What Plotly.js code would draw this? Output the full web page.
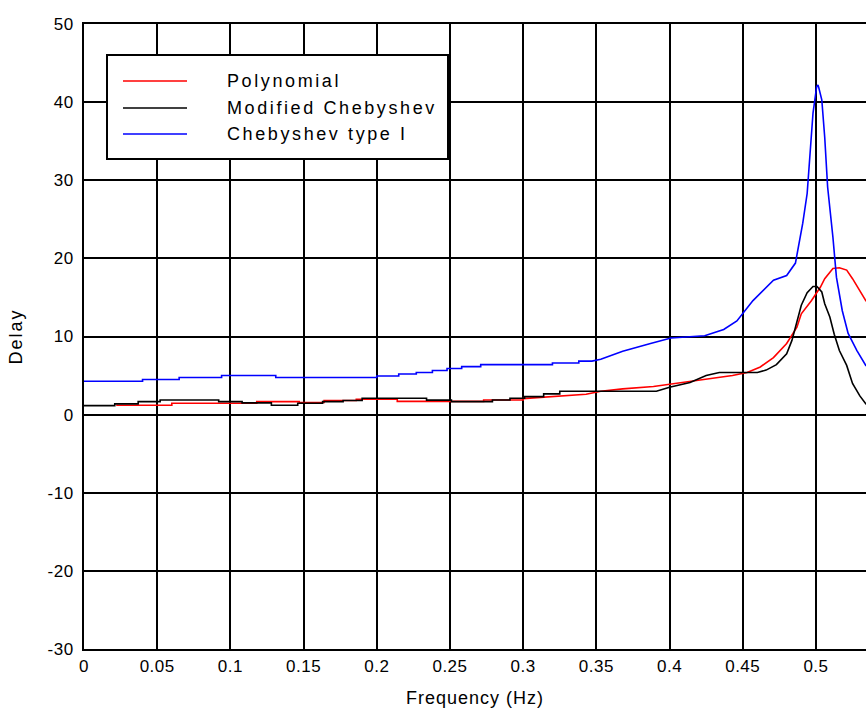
<!DOCTYPE html>
<html>
<head>
<meta charset="utf-8">
<script src="https://cdn.plot.ly/plotly-3.0.1.min.js"></script>
<style>
  html, body { margin: 0; padding: 0; background: #fff; }
  #chart { width: 866px; height: 711px; }
  .xtick text, .ytick text { letter-spacing: 0.5px; }
  .xtitle { letter-spacing: 1px; }
  .ytitle { letter-spacing: 2px; }
  .annotation-text { letter-spacing: 2.6px; }
</style>
</head>
<body>
<div id="chart"></div>
<script>
// ---- data ----
const seriesNames = ["Polynomial", "Modified Chebyshev", "Chebyshev type I"];
const seriesColors = ["#ff0000", "#000000", "#0000ff"];

const polyFreq = [0.022, 0.060, 0.060, 0.118, 0.118, 0.147, 0.147, 0.164, 0.164, 0.186, 0.186, 0.214, 0.214, 0.273, 0.273, 0.300, 0.300, 0.323, 0.343, 0.353, 0.368, 0.389, 0.401, 0.424, 0.443, 0.453, 0.462, 0.471, 0.480, 0.487, 0.490, 0.497, 0.503, 0.506, 0.5116, 0.516, 0.521, 0.525, 0.530, 0.534, 0.540];
const polyDelay = [1.2, 1.2, 1.45, 1.45, 1.67, 1.67, 1.55, 1.55, 1.8, 1.8, 1.97, 1.97, 1.7, 1.7, 1.88, 1.88, 2.05, 2.3, 2.6, 3.0, 3.3, 3.6, 3.9, 4.5, 5.0, 5.4, 6.1, 7.3, 9.1, 11.2, 12.9, 14.6, 16.3, 17.4, 18.7, 18.8, 18.5, 17.4, 15.9, 14.6, 13.5];

const modFreq = [0, 0.021, 0.021, 0.037, 0.037, 0.052, 0.052, 0.092, 0.092, 0.108, 0.108, 0.128, 0.128, 0.146, 0.146, 0.163, 0.163, 0.177, 0.177, 0.190, 0.190, 0.234, 0.234, 0.251, 0.251, 0.279, 0.279, 0.291, 0.291, 0.301, 0.301, 0.314, 0.314, 0.325, 0.325, 0.391, 0.400, 0.414, 0.425, 0.434, 0.460, 0.466, 0.473, 0.480, 0.4836, 0.486, 0.488, 0.490, 0.494, 0.498, 0.5007, 0.504, 0.506, 0.5095, 0.5125, 0.516, 0.521, 0.525, 0.530, 0.534, 0.540];
const modDelay = [1.15, 1.15, 1.37, 1.37, 1.67, 1.67, 1.88, 1.88, 1.67, 1.67, 1.5, 1.5, 1.2, 1.2, 1.45, 1.45, 1.67, 1.67, 1.8, 1.8, 2.1, 2.1, 1.85, 1.85, 1.67, 1.67, 1.88, 1.88, 2.1, 2.1, 2.3, 2.3, 2.65, 2.65, 3.0, 3.0, 3.5, 4.1, 5.0, 5.4, 5.4, 5.7, 6.4, 7.8, 9.5, 11.2, 12.3, 14.0, 15.6, 16.4, 16.4, 15.7, 14.2, 12.5, 10.3, 8.2, 6.3, 4.0, 2.4, 1.4, 0.6];

const chebFreq = [0, 0.040, 0.040, 0.065, 0.065, 0.094, 0.094, 0.131, 0.131, 0.200, 0.200, 0.215, 0.215, 0.227, 0.227, 0.238, 0.238, 0.248, 0.248, 0.258, 0.258, 0.271, 0.271, 0.320, 0.320, 0.338, 0.338, 0.347, 0.353, 0.368, 0.387, 0.401, 0.424, 0.437, 0.446, 0.453, 0.457, 0.471, 0.480, 0.486, 0.488, 0.491, 0.494, 0.496, 0.498, 0.5005, 0.5014, 0.502, 0.504, 0.506, 0.508, 0.5116, 0.514, 0.518, 0.522, 0.528, 0.534, 0.540];
const chebDelay = [4.27, 4.27, 4.5, 4.5, 4.75, 4.75, 5.0, 5.0, 4.75, 4.75, 4.95, 4.95, 5.2, 5.2, 5.4, 5.4, 5.65, 5.65, 5.9, 5.9, 6.15, 6.15, 6.4, 6.4, 6.6, 6.6, 6.85, 6.85, 7.1, 8.1, 9.1, 9.8, 10.1, 10.9, 12.0, 13.6, 14.6, 17.2, 17.8, 19.4, 21.4, 24.5, 28.3, 33.0, 38.6, 42.0, 42.2, 41.8, 40.3, 35.5, 29.1, 22.7, 17.6, 13.3, 10.4, 8.2, 6.3, 5.8];

const xTickVals = [0, 0.05, 0.1, 0.15, 0.2, 0.25, 0.3, 0.35, 0.4, 0.45, 0.5];
const xTickText = ["0", "0.05", "0.1", "0.15", "0.2", "0.25", "0.3", "0.35", "0.4", "0.45", "0.5"];
const yTickVals = [-30, -20, -10, 0, 10, 20, 30, 40, 50];
const yTickText = ["-30", "-20", "-10", "0", "10", "20", "30", "40", "50"];

const xs = [polyFreq, modFreq, chebFreq];
const ys = [polyDelay, modDelay, chebDelay];

// ---- build figure ----
const traces = seriesNames.map((name, i) => ({
  type: "scatter",
  mode: "lines",
  name: name,
  x: xs[i],
  y: ys[i],
  line: { color: seriesColors[i], width: 1.6 },
  hoverinfo: "skip"
}));

const FONT = "Liberation Sans, Arial, sans-serif";

// Manual legend box (paper coordinates)
const legendBox = { x0: (107 - 84) / 782, x1: (448 - 84) / 782, y0: (649 - 159) / 625, y1: (649 - 55) / 625 };
const legendRowsPx = [81, 108, 134];
const shapes = [{
  type: "rect", xref: "paper", yref: "paper",
  x0: legendBox.x0, x1: legendBox.x1, y0: legendBox.y0, y1: legendBox.y1,
  fillcolor: "#ffffff", line: { color: "#000000", width: 2 }, layer: "above"
}];
const annotations = [];
seriesNames.forEach((name, i) => {
  const yp = (649 - legendRowsPx[i]) / 625;
  shapes.push({
    type: "line", xref: "paper", yref: "paper",
    x0: (123 - 84) / 782, x1: (187 - 84) / 782, y0: yp, y1: yp,
    line: { color: seriesColors[i], width: 1.6 }, layer: "above"
  });
  annotations.push({
    xref: "paper", yref: "paper", x: (225 - 84) / 782, y: yp,
    xanchor: "left", yanchor: "middle", showarrow: false,
    text: name, font: { family: FONT, size: 18, color: "#000" }
  });
});

const layout = {
  width: 866, height: 711,
  margin: { l: 84, r: 0, t: 24, b: 62 },
  paper_bgcolor: "#ffffff", plot_bgcolor: "#ffffff",
  showlegend: false,
  font: { family: FONT, size: 17, color: "#000" },
  xaxis: {
    range: [0, 0.5342],
    tickmode: "array", tickvals: xTickVals, ticktext: xTickText,
    tickfont: { family: FONT, size: 17, color: "#000" },
    showgrid: true, gridcolor: "#000", gridwidth: 2,
    zeroline: false,
    showline: true, linecolor: "#000", linewidth: 2, mirror: true,
    ticks: "", ticklabelstandoff: 1,
    title: { text: "Frequency (Hz)", font: { family: FONT, size: 18, color: "#000" }, standoff: 16 },
    fixedrange: true
  },
  yaxis: {
    range: [-30, 50],
    tickmode: "array", tickvals: yTickVals, ticktext: yTickText,
    tickfont: { family: FONT, size: 17, color: "#000" },
    showgrid: true, gridcolor: "#000", gridwidth: 2,
    zeroline: true, zerolinecolor: "#000", zerolinewidth: 2,
    showline: true, linecolor: "#000", linewidth: 2, mirror: false,
    ticks: "", ticklabelstandoff: 5,
    title: { text: "Delay", font: { family: FONT, size: 18, color: "#000" }, standoff: 20 },
    fixedrange: true
  },
  shapes: shapes,
  annotations: annotations
};

Plotly.newPlot("chart", traces, layout, { displayModeBar: false, staticPlot: true });
</script>
</body>
</html>
